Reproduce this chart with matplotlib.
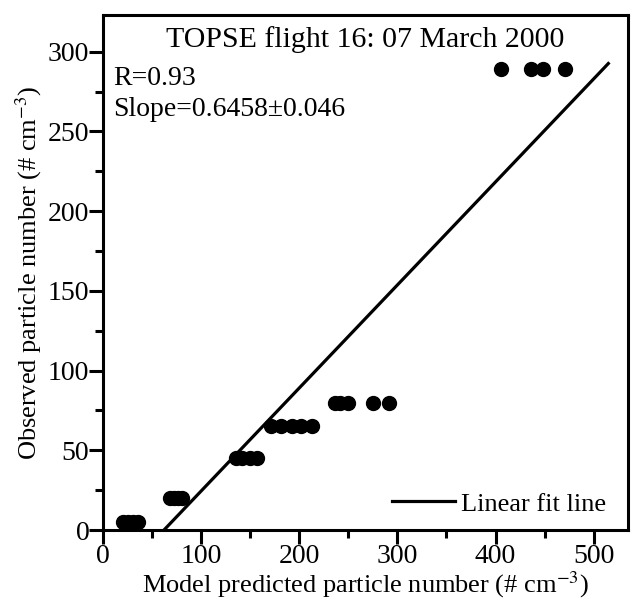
import matplotlib
matplotlib.use("Agg")
import matplotlib.pyplot as plt
from matplotlib.ticker import MultipleLocator

plt.rcParams['font.family'] = ['Liberation Serif', 'DejaVu Serif']
plt.rcParams['mathtext.fontset'] = 'stix'

# observed vs model predicted particle number
model_x = [20, 25, 30, 35,
           68, 72, 76, 80,
           135, 142, 150, 157,
           171, 181, 192, 202, 213,
           236, 241, 250, 275, 291,
           406, 436, 448, 471]
observed_y = [5, 5, 5, 5,
              20, 20, 20, 20,
              45, 45, 45, 45,
              65, 65, 65, 65, 65,
              80, 80, 80, 80, 80,
              289, 289, 289, 289]

fit_slope = 0.6458
fit_intercept = -40.0
fit_x = [62, 515]
fit_y = [fit_slope * v + fit_intercept for v in fit_x]

fig = plt.figure(figsize=(6.33, 6.01), dpi=100)
ax = fig.add_axes([0.163, 0.118, 0.829, 0.857])

ax.plot(model_x, observed_y, 'o', color='black', ms=10, mec='black')
ax.plot(fit_x, fit_y, '-', color='black', lw=2.3, label='Linear fit line')

ax.set_xlim(0, 535)
ax.set_ylim(0, 323)
ax.xaxis.set_major_locator(MultipleLocator(100))
ax.xaxis.set_minor_locator(MultipleLocator(50))
ax.yaxis.set_major_locator(MultipleLocator(50))
ax.yaxis.set_minor_locator(MultipleLocator(25))
ax.tick_params(which='major', direction='out', length=10, width=2.2, labelsize=20, pad=0)
ax.tick_params(which='minor', direction='out', length=6, width=2.2)
ax.tick_params(top=False, right=False)
for s in ax.spines.values():
    s.set_linewidth(2.2)

ax.set_xlabel('Model predicted particle number (# cm$^{-3}$)', fontsize=19, labelpad=0)
ax.set_ylabel('Observed particle number (# cm$^{-3}$)', fontsize=19, labelpad=3)

ax.text(0.5, 0.938, 'TOPSE flight 16: 07 March 2000', transform=ax.transAxes,
        ha='center', va='baseline', fontsize=21.5)
ax.text(0.019, 0.864, 'R=0.93', transform=ax.transAxes, ha='left', va='baseline', fontsize=20)
ax.text(0.019, 0.804, 'Slope=0.6458\u00b10.046', transform=ax.transAxes, ha='left', va='baseline', fontsize=20)

ax.legend(loc='lower right', bbox_to_anchor=(0.987, 0.0), frameon=False, fontsize=19,
          handlelength=2.4, handletextpad=0.25, borderaxespad=0.15)

fig.savefig('out.png', dpi=100)
